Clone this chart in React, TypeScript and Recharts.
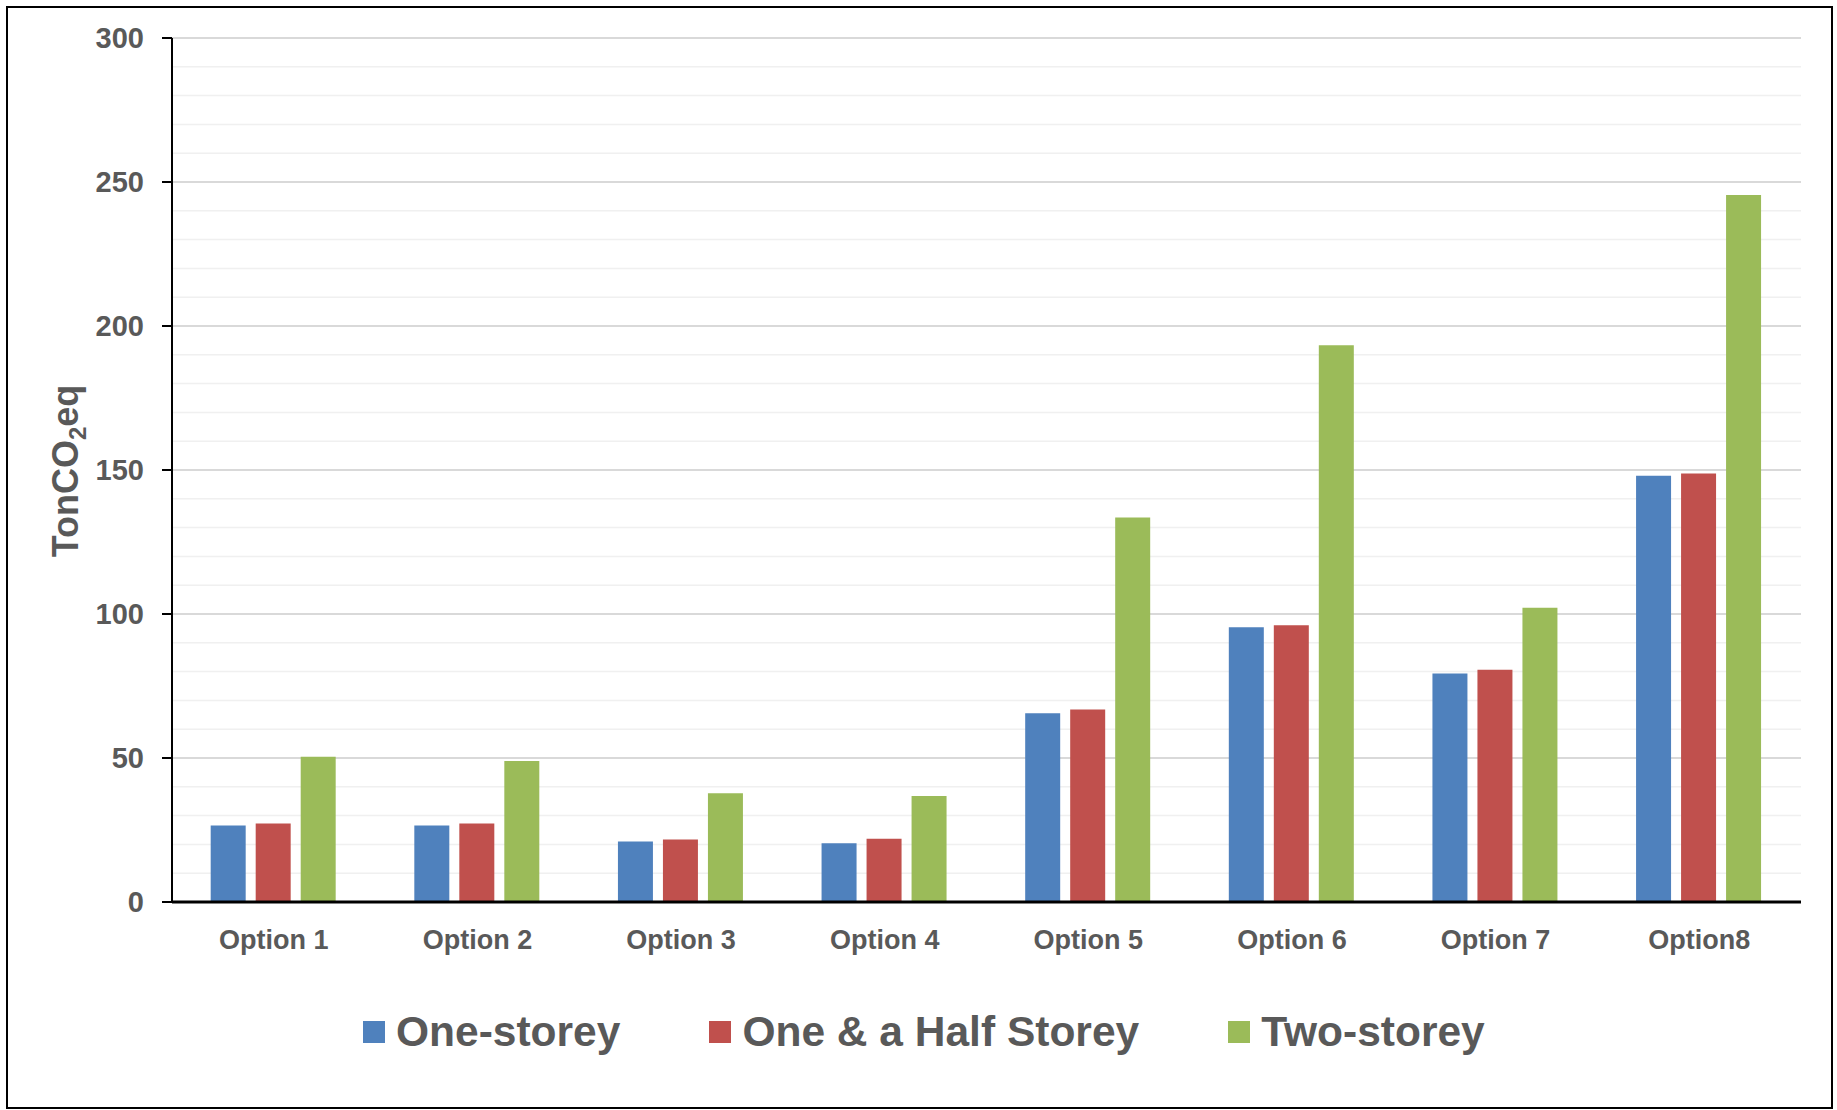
import React from 'react';
import {
  BarChart,
  Bar,
  XAxis,
  YAxis,
  CartesianGrid,
} from 'recharts';

const categories = ['Option 1', 'Option 2', 'Option 3', 'Option 4', 'Option 5', 'Option 6', 'Option 7', 'Option8'];
const oneStorey = [26.6, 26.6, 21.0, 20.4, 65.5, 95.4, 79.3, 148.0];
const oneHalfStorey = [27.3, 27.3, 21.7, 22.0, 66.8, 96.1, 80.6, 148.8];
const twoStorey = [50.4, 49.0, 37.8, 36.8, 133.5, 193.3, 102.2, 245.5];
const yTicks = [0, 50, 100, 150, 200, 250, 300];
const minorTicks = [10, 20, 30, 40, 60, 70, 80, 90, 110, 120, 130, 140, 160, 170, 180, 190, 210, 220, 230, 240, 260, 270, 280, 290];

const series = [
  { key: 'one', name: 'One-storey', color: '#4F81BD' },
  { key: 'half', name: 'One & a Half Storey', color: '#C0504D' },
  { key: 'two', name: 'Two-storey', color: '#9BBB59' },
];

const data = categories.map((name, i) => ({
  name,
  one: oneStorey[i],
  half: oneHalfStorey[i],
  two: twoStorey[i],
}));

const FONT = '"Liberation Sans", Arial, sans-serif';
const TEXT = '#595959';

const YLabel = () => (
  <text
    x={78}
    y={471}
    transform="rotate(-90 78 471)"
    textAnchor="middle"
    fill={TEXT}
    fontSize={36}
    fontWeight="bold"
    fontFamily={FONT}
  >
    TonCO
    <tspan dy={8} fontSize={24}>2</tspan>
    <tspan dy={-8}>eq</tspan>
  </text>
);

const App: React.FC = () => {
  return (
    <div style={{ position: 'absolute', left: 0, top: 0, width: 1837, height: 1110, background: '#fff', fontFamily: FONT }}>
      <div style={{ position: 'absolute', left: 6, top: 6, width: 1823, height: 1099, border: '2px solid #000' }} />

      <BarChart
        width={1837}
        height={1110}
        data={data}
        margin={{ top: 38, right: 36, bottom: 148, left: 0 }}
        barCategoryGap="19%"
        barGap={10}
      >
        <CartesianGrid horizontalValues={minorTicks} vertical={false} stroke="#f0f0f0" strokeWidth={1.5} />
        <CartesianGrid vertical={false} stroke="#d9d9d9" strokeWidth={2} />
        <XAxis
          dataKey="name"
          height={60}
          interval={0}
          tickSize={0}
          tickMargin={28}
          axisLine={{ stroke: '#000', strokeWidth: 3 }}
          tick={{ fill: TEXT, fontSize: 27, fontWeight: 'bold', fontFamily: FONT }}
        />
        <YAxis
          width={172}
          domain={[0, 300]}
          ticks={yTicks}
          interval={0}
          tickSize={10}
          tickMargin={18}
          axisLine={{ stroke: '#000', strokeWidth: 2 }}
          tickLine={{ stroke: '#000', strokeWidth: 2 }}
          tick={{ fill: TEXT, fontSize: 29, fontWeight: 'bold', fontFamily: FONT }}
          label={{ content: () => <YLabel /> }}
        />
        {series.map((s) => (
          <Bar key={s.key} dataKey={s.key} name={s.name} fill={s.color} isAnimationActive={false} />
        ))}
      </BarChart>

      <div style={{ position: 'absolute', left: 363, top: 1010, height: 44, display: 'flex', alignItems: 'center' }}>
        {series.map((s, i) => (
          <div key={s.key} style={{ display: 'flex', alignItems: 'center', marginRight: i < series.length - 1 ? 89 : 0 }}>
            <div style={{ width: 22, height: 22, background: s.color, marginRight: 11 }} />
            <span style={{ fontSize: 42.5, fontWeight: 'bold', color: TEXT, lineHeight: '44px' }}>{s.name}</span>
          </div>
        ))}
      </div>
    </div>
  );
};

export default App;
